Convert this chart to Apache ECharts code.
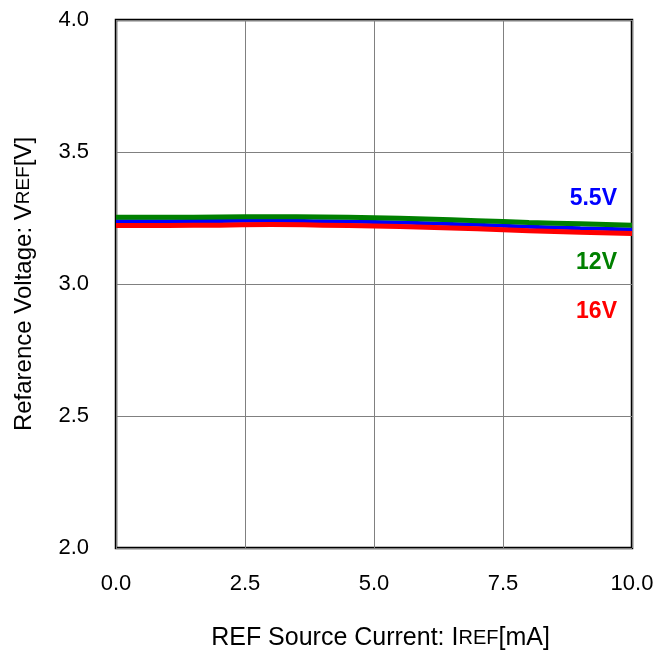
<!DOCTYPE html>
<html><head><meta charset="utf-8">
<script src="https://cdn.jsdelivr.net/npm/echarts@6/dist/echarts.min.js"></script>
<style>html,body{margin:0;padding:0;background:#fff}#c{width:667px;height:653px}</style>
</head><body><div id="c"></div>
<script>
const current = [0,1,2,3,4,5,6,7,8,9,10];
const v55 = [3.238,3.238,3.239,3.240,3.238,3.235,3.230,3.224,3.217,3.211,3.206];
const v12 = [3.253,3.253,3.254,3.255,3.254,3.251,3.246,3.240,3.233,3.228,3.223];
const v16 = [3.222,3.222,3.223,3.225,3.223,3.220,3.215,3.209,3.202,3.196,3.191];
const xTicks = ['0.0','2.5','5.0','7.5','10.0'];
const yTicks = ['2.0','2.5','3.0','3.5','4.0'];
const seriesLabels = ['5.5V','12V','16V'];

const chart = echarts.init(document.getElementById('c'));
const font = 'Liberation Sans, Arial, sans-serif';
const pair = (xs, ys) => xs.map((x,i)=>[x, ys[i]]);
chart.setOption({
  animation:false,
  grid:{left:116, top:20, right:35, bottom:105, outerBoundsMode:'none', containLabel:false, show:true, borderColor:'#000', borderWidth:2.5, backgroundColor:'transparent'},
  xAxis:{type:'value', min:0, max:10, interval:2.5,
    name:'{a|REF Source Current: I}{b|REF}{a|[mA]}', nameLocation:'middle', nameGap:78,
    nameTextStyle:{padding:[0,0,0,13], rich:{a:{fontFamily:font,fontSize:25,color:'#000'},b:{fontFamily:font,fontSize:20,color:'#000'}}},
    axisLine:{show:false}, axisTick:{show:false},
    splitLine:{show:true, lineStyle:{color:'#808080', width:1}},
    axisLabel:{fontFamily:font, fontSize:22, color:'#000', margin:25,
      formatter:(v)=>{const i=Math.round(v/2.5); return xTicks[i];}}
  },
  yAxis:{type:'value', min:2.0, max:4.0, interval:0.5,
    name:'{a|Refarence Voltage: V}{b|REF}{a|[V]}', nameLocation:'middle', nameGap:80,
    nameTextStyle:{rich:{a:{fontFamily:font,fontSize:24,color:'#000'},b:{fontFamily:font,fontSize:19,color:'#000'}}},
    axisLine:{show:false}, axisTick:{show:false},
    splitLine:{show:true, lineStyle:{color:'#808080', width:1}},
    axisLabel:{fontFamily:font, fontSize:22, color:'#000', margin:27,
      formatter:(v)=>{const i=Math.round((v-2)/0.5); return yTicks[i];}}
  },
  series:[
    {name:seriesLabels[0], type:'line', data:pair(current,v55), showSymbol:false, smooth:true, z:2,
      lineStyle:{color:'#0000ff', width:4}},
    {name:seriesLabels[2], type:'line', data:pair(current,v16), showSymbol:false, smooth:true, z:3,
      lineStyle:{color:'#ff0000', width:5}},
    {name:seriesLabels[1], type:'line', data:pair(current,v12), showSymbol:false, smooth:true, z:4,
      lineStyle:{color:'#008000', width:5}}
  ],
  graphic:[
    {type:'text', right:50, top:187, style:{text:seriesLabels[0], fill:'#0000ff', font:'bold 23px '+font}},
    {type:'text', right:50, top:251, style:{text:seriesLabels[1], fill:'#008000', font:'bold 23px '+font}},
    {type:'text', right:50, top:300, style:{text:seriesLabels[2], fill:'#ff0000', font:'bold 23px '+font}}
  ]
});
</script></body></html>
